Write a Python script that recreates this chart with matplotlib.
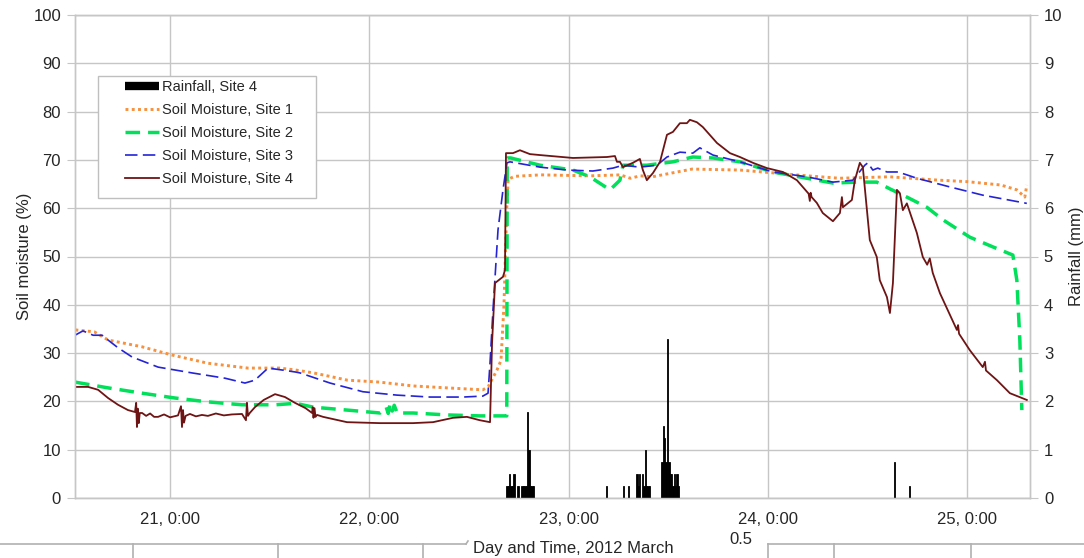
import matplotlib
matplotlib.use('Agg')
import matplotlib.pyplot as plt
from matplotlib.lines import Line2D
from matplotlib.patches import Rectangle

plt.rcParams['font.family'] = ['Liberation Sans', 'DejaVu Sans']

# ---------------- data ----------------
# time in days of March 2012 (e.g. 22.5 = 22 March 12:00)
t_site1 = [20.525, 20.62, 20.69, 20.86, 21.01, 21.19, 21.39, 21.55, 21.63, 21.72, 21.89, 22.05, 22.22,
           22.39, 22.57, 22.596, 22.641, 22.661, 22.676, 22.69, 22.697, 22.73, 22.86, 23.11, 23.26, 23.31,
           23.36, 23.42, 23.52, 23.62, 23.86, 24.03, 24.20, 24.36, 24.61, 24.86, 25.0, 25.17, 25.25,
           25.29, 25.30]
sm_site1 = [34.8, 34.4, 32.7, 31.3, 29.6, 27.9, 26.9, 26.9, 26.5, 25.9, 24.4, 24.0, 23.2,
            22.8, 22.4, 23.0, 26.5, 28.5, 40.0, 60.0, 66.0, 66.6, 66.9, 66.7, 66.9, 66.2,
            66.7, 66.5, 67.3, 68.1, 67.9, 67.3, 66.7, 66.2, 66.5, 65.8, 65.5, 64.8, 63.8,
            62.3, 64.8]

t_site2 = [20.523, 20.689, 20.86, 21.025, 21.19, 21.36, 21.53, 21.63, 21.72, 21.89, 22.054, 22.085,
           22.095, 22.105, 22.115, 22.125, 22.14, 22.22, 22.39, 22.555, 22.69, 22.692, 22.71, 22.857,
           23.022, 23.107, 23.208, 23.258, 23.273, 23.393, 23.524, 23.624, 23.725, 23.86, 24.026,
           24.196, 24.327, 24.447, 24.547, 24.613, 24.698, 24.798, 24.879, 25.014, 25.129, 25.23,
           25.25, 25.265, 25.275]
sm_site2 = [24.0, 22.8, 21.7, 20.7, 19.9, 19.3, 19.3, 19.6, 18.8, 18.2, 17.6, 18.8,
            17.5, 19.6, 18.0, 19.2, 17.6, 17.6, 17.2, 17.0, 17.0, 70.4, 70.4, 68.9,
            67.9, 66.5, 63.8, 65.8, 68.9, 68.9, 69.6, 70.6, 70.4, 69.6, 67.5,
            66.2, 65.2, 65.4, 65.4, 64.0, 62.3, 60.2, 57.6, 54.0, 52.0, 50.3,
            45.1, 32.7, 18.2]

t_site3 = [20.523, 20.563, 20.614, 20.659, 20.689, 20.739, 20.809, 20.94, 21.11, 21.276, 21.376, 21.426,
           21.492, 21.562, 21.627, 21.652, 21.803, 21.968, 22.139, 22.305, 22.47, 22.57, 22.596, 22.606,
           22.621, 22.646, 22.671, 22.691, 22.706, 22.857, 22.992, 23.122, 23.223, 23.273, 23.358,
           23.444, 23.494, 23.559, 23.624, 23.659, 23.725, 23.86, 24.026, 24.196, 24.327, 24.427,
           24.487, 24.502, 24.527, 24.552, 24.598, 24.653, 24.698, 24.748, 24.914, 25.079, 25.30]
sm_site3 = [33.7, 34.6, 33.7, 33.7, 32.7, 31.1, 29.2, 27.1, 25.9, 24.8, 23.8, 24.4,
            26.9, 26.5, 26.1, 25.9, 23.8, 22.0, 21.3, 20.9, 20.9, 21.1, 21.7, 28.0,
            39.0, 55.5, 63.8, 69.4, 69.6, 68.5, 67.9, 67.7, 68.3, 68.9, 68.5,
            68.9, 70.6, 71.6, 71.4, 72.5, 71.0, 69.6, 67.5, 66.5, 65.4, 65.8,
            68.9, 69.4, 67.9, 68.3, 67.5, 67.5, 66.9, 66.2, 64.4, 62.7, 61.0]

t_site4 = [20.523, 20.589, 20.639, 20.689, 20.739, 20.789, 20.824, 20.830, 20.834, 20.838, 20.843, 20.848,
           20.86, 20.88, 20.90, 20.92, 20.94, 20.97, 21.0, 21.04, 21.055, 21.06, 21.065, 21.07, 21.078,
           21.10, 21.13, 21.16, 21.19, 21.23, 21.27, 21.31, 21.361, 21.381, 21.386, 21.391, 21.40,
           21.426, 21.47, 21.527, 21.577, 21.627, 21.68, 21.713, 21.716, 21.72, 21.725, 21.73, 21.738,
           21.768, 21.888, 22.054, 22.219, 22.32, 22.42, 22.49, 22.555, 22.606, 22.616, 22.631, 22.671,
           22.681, 22.686, 22.721, 22.756, 22.806, 22.857, 23.022, 23.193, 23.233, 23.243, 23.258,
           23.273, 23.323, 23.358, 23.373, 23.393, 23.424, 23.459, 23.494, 23.524, 23.559, 23.594,
           23.609, 23.644, 23.674, 23.745, 23.81, 23.86, 23.925, 23.996, 24.076, 24.146, 24.205,
           24.211, 24.215, 24.22, 24.246, 24.276, 24.327, 24.362, 24.372, 24.377, 24.422, 24.437,
           24.462, 24.477, 24.512, 24.547, 24.562, 24.598, 24.613, 24.628, 24.648, 24.663, 24.678,
           24.698, 24.748, 24.778, 24.80, 24.813, 24.828, 24.864, 24.949, 24.955, 24.96, 25.014,
           25.079, 25.09, 25.095, 25.15, 25.215, 25.30]
sm_site4 = [23.0, 23.0, 22.4, 20.7, 19.3, 18.2, 17.8, 19.7, 14.7, 18.5, 15.5, 17.6,
            17.6, 17.0, 17.5, 16.8, 16.8, 17.3, 16.7, 17.1, 19.0, 14.7, 18.2, 15.6, 17.0,
            17.4, 16.9, 17.2, 17.0, 17.5, 17.1, 17.3, 17.4, 16.1, 19.7, 17.0, 17.6,
            18.8, 20.3, 21.5, 20.9, 19.7, 18.6, 17.6, 18.8, 16.6, 18.6, 16.8, 17.2,
            16.8, 15.7, 15.5, 15.5, 15.7, 16.6, 16.8, 16.1, 15.7, 32.0, 44.5, 45.8,
            47.2, 71.4, 71.4, 72.0, 71.2, 71.0, 70.4, 70.6, 70.8, 69.6, 69.6,
            68.5, 69.4, 70.2, 67.9, 65.8, 67.3, 69.6, 75.2, 75.8, 77.6, 77.6,
            78.3, 77.8, 76.8, 73.5, 71.4, 70.6, 69.4, 68.3, 67.5, 65.8, 63.0,
            61.5, 63.2, 62.3, 61.1, 59.0, 57.3, 59.0, 62.3, 60.2, 61.7, 65.8,
            69.4, 68.5, 53.4, 49.9, 45.1, 41.6, 38.3, 44.5, 63.8, 63.1, 59.6,
            61.0, 54.9, 49.9, 48.3, 49.6, 46.6, 42.4, 34.8, 35.8, 34.0, 30.6,
            27.1, 28.2, 26.4, 24.4, 21.7, 20.3]

# rainfall at Site 4, 10-minute totals (start of interval, "day hh:mm")
rain_time = ["22 16:30", "22 16:40", "22 16:50", "22 17:00", "22 17:10", "22 17:20", "22 17:50",
             "22 18:20", "22 18:30", "22 18:40", "22 18:50", "22 19:00", "22 19:10", "22 19:20",
             "22 19:30", "22 19:40",
             "23 04:30", "23 06:30", "23 07:10", "23 08:10", "23 08:20", "23 08:30",
             "23 08:50", "23 09:00", "23 09:10", "23 09:20", "23 09:30", "23 09:40",
             "23 11:10", "23 11:20", "23 11:30", "23 11:40", "23 11:50", "23 12:00", "23 12:10",
             "23 12:20", "23 12:30", "23 12:40", "23 12:50", "23 13:00", "23 13:10",
             "24 15:10", "24 17:00"]
rain_mm = [0.25, 0.25, 0.5, 0.25, 0.25, 0.5, 0.25,
           0.25, 0.25, 0.25, 0.25, 1.78, 1.0, 0.25,
           0.25, 0.25,
           0.25, 0.25, 0.25, 0.5, 0.25, 0.5,
           0.5, 0.25, 1.0, 0.25, 0.25, 0.25,
           0.75, 1.5, 1.25, 0.75, 3.3, 0.75, 0.5,
           0.5, 0.25, 0.5, 0.25, 0.5, 0.25,
           0.75, 0.25]

x_ticks = [21, 22, 23, 24, 25]
x_ticklabels = ["21, 0:00", "22, 0:00", "23, 0:00", "24, 0:00", "25, 0:00"]
series_labels = ["Rainfall, Site 4", "Soil Moisture, Site 1", "Soil Moisture, Site 2",
                 "Soil Moisture, Site 3", "Soil Moisture, Site 4"]


def to_day(s):
    d, hm = s.split()
    h, m = hm.split(":")
    return int(d) + (int(h) + int(m) / 60.0) / 24.0


rain_x = [to_day(s) for s in rain_time]

# ---------------- figure ----------------
W, H = 1084, 558
fig = plt.figure(figsize=(W / 100, H / 100), dpi=100)
ax = fig.add_axes([75 / W, 1 - 498 / H, 955 / W, 483 / H])
ax2 = ax.twinx()

GRID = '#c6c6c6'
TXT = '#262626'
c1, c2, c3, c4 = '#F7913D', '#00E05A', '#2424D6', '#6E1414'

st1 = dict(color=c1, lw=2.1, dashes=(1.0, 1.15))
st2 = dict(color=c2, lw=2.5, dashes=(4.2, 2.3))
st3 = dict(color=c3, lw=1.2, dashes=(7.5, 3.2))
st4 = dict(color=c4, lw=1.3)

ax.plot(t_site1, sm_site1, **st1, zorder=3)
ax.plot(t_site2, sm_site2, **st2, zorder=3)
ax.plot(t_site3, sm_site3, **st3, zorder=3)
ax.plot(t_site4, sm_site4, **st4, zorder=4)

ax2.bar(rain_x, rain_mm, width=1 / 144, align='edge', color='black',
        edgecolor='black', linewidth=0.6)

ax.set_xlim(20.523, 25.316)
ax.set_ylim(0, 100)
ax2.set_ylim(0, 10)
ax.set_yticks(range(0, 101, 10))
ax2.set_yticks(range(0, 11, 1))
ax.set_xticks(x_ticks)
ax.set_xticklabels(x_ticklabels)

ax.grid(True, color=GRID, lw=1.0)
ax.set_axisbelow(True)
for a in (ax, ax2):
    for sp in a.spines.values():
        sp.set_color(GRID)
        sp.set_linewidth(1.0)

ax.tick_params(axis='y', direction='out', length=6, color=GRID, labelsize=12, labelcolor=TXT, pad=4)
ax2.tick_params(axis='y', direction='out', length=6, color=GRID, labelsize=12, labelcolor=TXT, pad=4)
ax.tick_params(axis='x', direction='out', length=0, labelsize=12, labelcolor=TXT, pad=10)

ax.set_ylabel("Soil moisture (%)", fontsize=12, color=TXT, labelpad=1)
ax2.set_ylabel("Rainfall (mm)", fontsize=12, color=TXT, labelpad=5)

# legend with manual frame
def ax_xy(px, py):
    return ((px - 75) / 955, (498 - py) / 483)

x0, y0 = ax_xy(98, 198)
x1, y1 = ax_xy(316, 76)
ax2.add_patch(Rectangle((x0, y0), x1 - x0, y1 - y0, transform=ax2.transAxes,
                        facecolor='white', edgecolor='#bfbfbf', lw=1.0, zorder=20, clip_on=False))
handles = [Line2D([], [], color='black', lw=6, solid_capstyle='butt'),
           Line2D([], [], **st1), Line2D([], [], **st2), Line2D([], [], **st3), Line2D([], [], **st4)]
lx, ly = ax_xy(125, 80)
leg = ax2.legend(handles, series_labels, loc='upper left', bbox_to_anchor=(lx, ly),
                 frameon=False, borderpad=0, borderaxespad=0, fontsize=10.5,
                 handlelength=2.3, handletextpad=0.25, labelspacing=0.62)
for t in leg.get_texts():
    t.set_color(TXT)
leg.set_zorder(30)

# bottom strip (partial neighbouring frame visible in the original)
def fl(xs, ys):
    fig.add_artist(Line2D([x / W for x in xs], [1 - y / H for y in ys], color='#b0b0b0', lw=1.2,
                          transform=fig.transFigure))

fl([0, 466], [544, 544])
fl([466, 468], [544, 541])
for xv in [133, 278, 423]:
    fl([xv, xv], [544, 558])
fl([768, 1084], [544, 544])
fl([768, 768], [544, 558])
for xv in [834, 971]:
    fl([xv, xv], [544, 558])

fig.text(473 / W, 1 - 548 / H, "Day and Time, 2012 March", fontsize=12, color=TXT,
         ha='left', va='center')
fig.text(752 / W, 1 - 540 / H, "0.5", fontsize=12, color=TXT, ha='right', va='center')

fig.savefig('out.png', dpi=100)
